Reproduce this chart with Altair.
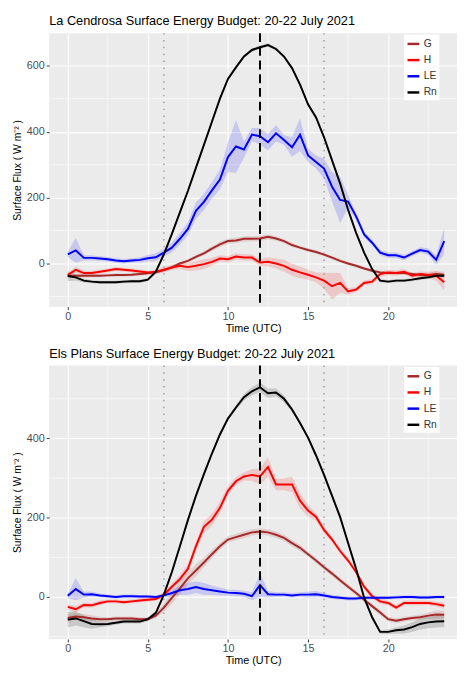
import altair as alt
import pandas as pd

TIMES = [0, 0.5, 1, 1.5, 2, 2.5, 3, 3.5, 4, 4.5, 5, 5.5, 6, 6.5, 7, 7.5, 8, 8.5, 9, 9.5,
         10, 10.5, 11, 11.5, 12, 12.5, 13, 13.5, 14, 14.5, 15, 15.5, 16, 16.5, 17, 17.5,
         18, 18.5, 19, 19.5, 20, 20.5, 21, 21.5, 22, 22.5, 23, 23.5]
SERIES = ["G", "H", "LE", "Rn"]
COLORS = ["#A52A2A", "#FF0000", "#0000FF", "#000000"]

# ---- La Cendrosa ----
cen_G = [-38, -37, -37, -37, -37, -36, -35, -35, -34, -32, -30, -27, -20, -12, 0, 8, 20, 31, 45, 58,
         68, 70, 75, 75, 76, 81, 76, 68, 56, 48, 41, 35, 27, 18, 8, 0, -7, -15, -22, -27,
         -29, -29, -29, -32, -35, -35, -32, -34]
cen_H = [-35, -19, -29, -29, -25, -21, -17, -19, -21, -24, -27, -25, -19, -12, -7, -11, -7, -2, 5, 15,
         13, 21, 18, 18, 3, 5, 0, -7, -19, -27, -34, -42, -52, -69, -59, -85, -79, -59, -55, -32,
         -27, -29, -25, -37, -32, -35, -37, -57]
cen_LE = [28, 40, 17, 17, 15, 13, 9, 7, 9, 11, 16, 19, 33, 48, 75, 105, 160, 187, 222, 255,
          323, 355, 346, 391, 386, 368, 395, 375, 353, 391, 328, 308, 288, 233, 193, 188, 143, 88, 63, 33,
          25, 25, 18, 30, 41, 36, 11, 68]
cen_Rn = [-38, -42, -52, -55, -57, -57, -57, -55, -54, -54, -49, -25, 28, 90, 155, 220, 290, 360, 430, 500,
          560, 595, 628, 648, 656, 663, 651, 628, 593, 543, 483, 443, 383, 313, 243, 163, 93, 33, -17, -52,
          -55, -52, -52, -49, -45, -42, -37, -37]
cen_G_sd = [6, 5, 5, 5, 5, 5, 5, 5, 5, 5, 5, 5, 5, 5, 5, 5, 6, 6, 7, 8, 8, 8, 8, 8, 8, 8, 7, 6, 6, 5,
            5, 5, 5, 5, 5, 5, 5, 5, 5, 5, 5, 5, 5, 5, 5, 6, 8, 10]
cen_H_sd = [6, 10, 8, 6, 6, 6, 6, 6, 6, 6, 6, 6, 8, 8, 10, 12, 14, 15, 12, 10, 10, 10, 10, 10, 10, 14, 15, 18, 18, 18,
            15, 15, 25, 40, 30, 10, 8, 8, 8, 8, 8, 8, 8, 8, 8, 10, 15, 25]
cen_LE_sd = [8, 38, 8, 8, 7, 7, 7, 7, 7, 8, 10, 12, 12, 15, 18, 20, 25, 25, 25, 30, 45, 80, 25, 20, 25, 25, 25, 15, 30, 50,
             20, 20, 30, 45, 70, 20, 10, 8, 8, 8, 8, 8, 8, 8, 8, 10, 15, 40]
cen_Rn_sd = [15, 10, 6, 5, 5, 5, 5, 5, 5, 5, 5, 5, 5, 5, 5, 5, 5, 5, 5, 5, 5, 5, 5, 5, 5, 5, 5, 5, 5, 5,
             5, 5, 5, 5, 5, 5, 5, 5, 5, 5, 5, 5, 5, 5, 5, 5, 5, 5]

# ---- Els Plans ----
pla_G = [-53, -49, -51, -54, -56, -56, -54, -54, -54, -56, -56, -47, -27, -2, 22, 47, 67, 87, 108, 128,
         145, 151, 157, 163, 165, 163, 157, 149, 136, 124, 108, 92, 75, 59, 42, 26, 10, -7, -23, -39,
         -56, -60, -56, -53, -51, -47, -44, -45]
pla_H = [-25, -31, -20, -21, -15, -11, -11, -13, -11, -9, -7, -5, 6, 26, 45, 71, 128, 177, 195, 225,
         268, 292, 304, 308, 304, 328, 284, 284, 284, 243, 218, 202, 169, 145, 116, 92, 63, 26, 2, -11,
         -15, -27, -15, -15, -15, -15, -18, -22]
pla_LE = [3, 20, 6, 7, 4, 2, 0, 2, 2, 1, 1, 0, 4, 10, 17, 20, 25, 20, 17, 14,
          11, 10, 8, 2, 30, 7, 6, 6, 4, 6, 6, 7, 4, 0, -2, -4, -4, -2, -2, -2,
          -2, -1, 0, 0, -1, -1, 0, 0]
pla_Rn = [-57, -54, -61, -68, -69, -68, -65, -62, -62, -62, -56, -40, 6, 63, 128, 194, 255, 310, 362, 410,
          450, 478, 504, 519, 529, 514, 516, 500, 473, 439, 402, 357, 308, 255, 202, 136, 71, -2, -51, -88,
          -88, -84, -82, -76, -68, -64, -62, -61]
pla_G_sd = [10, 8, 8, 8, 6, 5, 5, 5, 5, 5, 5, 6, 10, 15, 15, 15, 15, 12, 10, 8, 8, 8, 8, 8, 8, 8, 8, 8, 8, 8,
            6, 6, 6, 6, 6, 6, 6, 6, 6, 6, 6, 6, 6, 6, 6, 8, 10, 10]
pla_H_sd = [6, 8, 6, 6, 6, 5, 5, 5, 5, 5, 5, 5, 6, 8, 10, 12, 12, 15, 15, 15, 12, 10, 10, 15, 20, 25, 15, 15, 20, 20,
            15, 10, 8, 6, 6, 6, 6, 6, 6, 6, 6, 6, 6, 6, 6, 6, 6, 8]
pla_LE_sd = [6, 28, 8, 6, 5, 4, 4, 4, 4, 4, 4, 4, 5, 8, 12, 15, 15, 15, 12, 10, 8, 8, 8, 10, 30, 8, 6, 6, 6, 6,
             8, 8, 6, 5, 5, 5, 4, 4, 4, 4, 4, 4, 4, 4, 4, 4, 4, 4]
pla_Rn_sd = [20, 18, 15, 12, 8, 6, 5, 5, 5, 5, 5, 5, 5, 5, 5, 5, 5, 5, 5, 5, 5, 6, 8, 10, 12, 12, 10, 8, 6, 5,
             5, 5, 5, 5, 5, 5, 5, 5, 5, 5, 6, 8, 10, 12, 14, 15, 15, 15]

DOTTED_TIMES = [6, 16]
DASHED_TIMES = [12]
X_TICKS = [0, 5, 10, 15, 20]
X_MINOR = [2.5, 7.5, 12.5, 17.5, 22.5]
Y_MINOR = [-100, 100, 300, 500]

FONT = "Liberation Sans"


def make_df(vals, sds):
    rows = []
    for s in SERIES:
        for t, v, sd in zip(TIMES, vals[s], sds[s]):
            rows.append({"t": t, "series": s, "band": s, "value": v, "lo": v - sd, "hi": v + sd})
    return pd.DataFrame(rows)


X_AXIS = alt.Axis(
    orient="bottom", values=X_TICKS, grid=True, gridColor="white", gridWidth=1.1,
    domain=False, tickColor="#333333", tickSize=3, labelPadding=1, labelFontSize=11,
    labelColor="#4D4D4D", title="Time (UTC)", titleFontSize=11, titleFontWeight="normal",
    titleColor="black", titlePadding=1, labelFont=FONT, titleFont=FONT)


def y_axis(yticks):
    return alt.Axis(
        orient="left", values=yticks, grid=True, gridColor="white", gridWidth=1.1,
        domain=False, tickColor="#333333", tickSize=3, labelPadding=2, labelFontSize=11,
        labelColor="#4D4D4D", title="Surface Flux ( W m\u207b\u00b2 )", titleFontSize=10.5,
        titleFontWeight="normal", titleColor="black", titlePadding=4, labelFont=FONT, titleFont=FONT)


def panel(df, title, ydomain, yticks, height):
    xs = alt.Scale(domain=[-1.16, 24.3], nice=False, zero=False)
    ys = alt.Scale(domain=ydomain, nice=False, zero=False)
    ya = y_axis(yticks)
    base = alt.Chart(df)

    minor_x = alt.Chart(pd.DataFrame({"t": X_MINOR})).mark_rule(color="white", strokeWidth=0.6).encode(
        x=alt.X("t:Q", scale=xs, axis=X_AXIS))
    minor_y = alt.Chart(pd.DataFrame({"value": Y_MINOR})).mark_rule(color="white", strokeWidth=0.6).encode(
        y=alt.Y("value:Q", scale=ys, axis=ya))

    # fill scale keeps a data-derived domain so its (hidden) legend is not merged with the line legend
    ribbons = base.mark_area(opacity=0.15).encode(
        x=alt.X("t:Q", scale=xs, axis=X_AXIS),
        y=alt.Y("lo:Q", scale=ys, axis=ya),
        y2="hi:Q",
        fill=alt.Fill("band:N", scale=alt.Scale(range=COLORS), legend=None),
        detail="band:N",
    )

    lines = base.mark_line(strokeWidth=2).encode(
        x=alt.X("t:Q", scale=xs, axis=X_AXIS),
        y=alt.Y("value:Q", scale=ys, axis=ya),
        color=alt.Color("series:N", scale=alt.Scale(domain=SERIES, range=COLORS), legend=alt.Legend(
            title=None, orient="none", legendX=362, legendY=1.5, symbolType="stroke", symbolSize=144,
            symbolStrokeWidth=2.5, labelFontSize=10.5, labelFont=FONT, labelColor="#333333",
            fillColor="white", padding=2, labelOffset=3, rowPadding=3.5)),
    )

    dotted = alt.Chart(pd.DataFrame({"t": DOTTED_TIMES})).mark_rule(
        color="#A0A0A0", strokeWidth=1.5, strokeDash=[1.5, 5.5]).encode(
        x=alt.X("t:Q", scale=xs, axis=X_AXIS))
    dashed = alt.Chart(pd.DataFrame({"t": DASHED_TIMES})).mark_rule(
        color="black", strokeWidth=2, strokeDash=[9, 5]).encode(
        x=alt.X("t:Q", scale=xs, axis=X_AXIS))

    return alt.layer(minor_x, minor_y, ribbons, dotted, lines, dashed).properties(
        width=416, height=height,
        title=alt.TitleParams(title, anchor="start", frame="group", fontSize=13, fontWeight="normal",
                              color="black", font=FONT, offset=4),
    )


cen_df = make_df({"G": cen_G, "H": cen_H, "LE": cen_LE, "Rn": cen_Rn},
                 {"G": cen_G_sd, "H": cen_H_sd, "LE": cen_LE_sd, "Rn": cen_Rn_sd})
pla_df = make_df({"G": pla_G, "H": pla_H, "LE": pla_LE, "Rn": pla_Rn},
                 {"G": pla_G_sd, "H": pla_H_sd, "LE": pla_LE_sd, "Rn": pla_Rn_sd})

top = panel(cen_df, "La Cendrosa Surface Energy Budget: 20-22 July 2021", [-131, 699], [0, 200, 400, 600], 279)
bottom = panel(pla_df, "Els Plans Surface Energy Budget: 20-22 July 2021", [-106, 584], [0, 200, 400], 279)

chart = alt.vconcat(top, bottom, spacing=15).resolve_scale(color="independent", fill="independent").configure(
    padding={"top": 1, "left": 4, "right": 0, "bottom": 0}, background="white").configure_view(
    fill="#EBEBEB", stroke=None)

chart.save("out.html", embed_options={"renderer": "svg", "actions": False})
